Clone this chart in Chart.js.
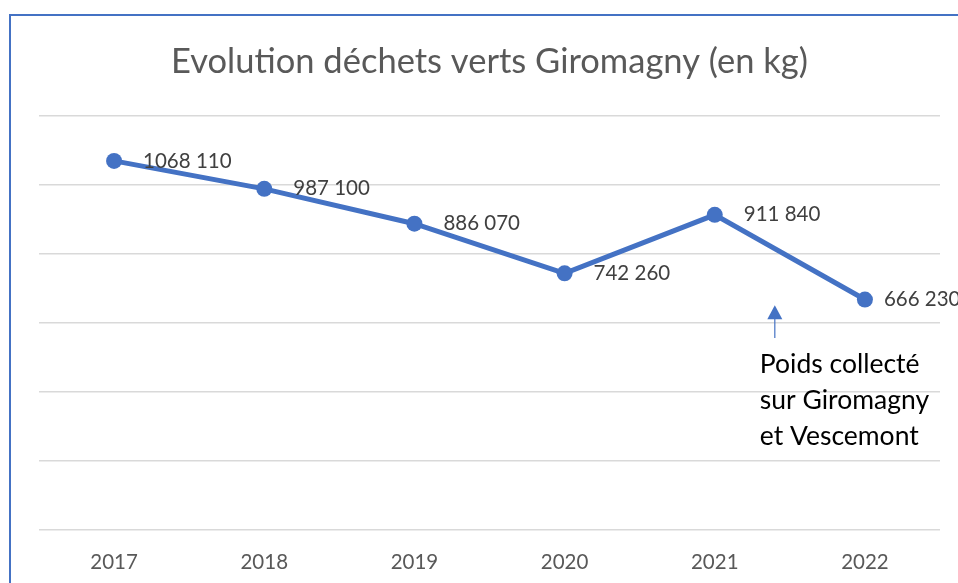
<!DOCTYPE html>
<html>
<head>
<meta charset="utf-8">
<script src="https://cdn.jsdelivr.net/npm/chart.js@4"></script>
<style>
    html, body { margin: 0; padding: 0; background: #fff; overflow: hidden; }
    #wrap { position: relative; width: 958px; height: 583px; overflow: hidden; }
    #frame { position: absolute; left: 9px; top: 14px; width: 1000px; height: 600px; border: 2px solid #4472C4; }
    #chart { position: absolute; left: 0; top: 0; }
</style>
</head>
<body>
<div id="wrap">
    <div id="frame"></div>
    <canvas id="chart" width="958" height="608"></canvas>
</div>
<script>
// donnees
var years = ['2017', '2018', '2019', '2020', '2021', '2022'];
var poids = [1068110, 987100, 886070, 742260, 911840, 666230];
var yTicks = [0, 200000, 400000, 600000, 800000, 1000000, 1200000];

var noteLines = ['Poids collecté', 'sur Giromagny', 'et Vescemont'];
var notePos = 4.4; // entre 2021 et 2022
var arrowTip = 650000;
var arrowEnd = 555000;

var mainFont = 'Lato, "Open Sans", sans-serif';

// format excel "# ##0" : seul le dernier groupe est separe
function formatKg(v) {
    var s = String(v);
    return s.slice(0, -3) + ' ' + s.slice(-3);
}

var valueLabels = {
    id: 'valueLabels',
    afterDatasetsDraw: function(chart) {
        var ctx = chart.ctx;
        var meta = chart.getDatasetMeta(0);
        ctx.save();
        ctx.font = '20.5px ' + mainFont;
        ctx.fillStyle = '#404040';
        ctx.textBaseline = 'middle';
        ctx.textAlign = 'left';
        meta.data.forEach(function(pt, i) {
            // le dernier libelle est rapproche du point (bord du graphique)
            var gap = i === meta.data.length - 1 ? 19 : 29;
            ctx.fillText(formatKg(poids[i]), pt.x + gap, pt.y);
        });
        ctx.restore();
    }
};

var note = {
    id: 'note',
    afterDraw: function(chart) {
        var ctx = chart.ctx;
        var xs = chart.scales.x, ys = chart.scales.y;
        var step = xs.getPixelForValue(1) - xs.getPixelForValue(0);
        var x = xs.getPixelForValue(4) + (notePos - 4) * step;
        var top = ys.getPixelForValue(arrowTip);
        var bottom = ys.getPixelForValue(arrowEnd);
        ctx.save();
        ctx.strokeStyle = '#4472C4';
        ctx.fillStyle = '#4472C4';
        ctx.lineWidth = 1.2;
        ctx.beginPath();
        ctx.moveTo(x, top + 12);
        ctx.lineTo(x, bottom);
        ctx.stroke();
        ctx.beginPath();
        ctx.moveTo(x, top);
        ctx.lineTo(x - 7.5, top + 14);
        ctx.lineTo(x + 7.5, top + 14);
        ctx.closePath();
        ctx.fill();
        ctx.font = '26.5px ' + mainFont;
        ctx.fillStyle = '#000';
        ctx.textBaseline = 'middle';
        ctx.textAlign = 'left';
        noteLines.forEach(function(t, i) {
            ctx.fillText(t, x - 15, bottom + 27 + i * 36);
        });
        ctx.restore();
    }
};

var ctx = document.getElementById('chart');
var myChart = new Chart(ctx, {
    type: 'line',
    data: {
        labels: years,
        datasets: [{
            label: 'Poids',
            data: poids,
            borderColor: '#4472C4',
            backgroundColor: '#4472C4',
            borderWidth: 5,
            pointRadius: 8,
            pointHoverRadius: 8,
            pointBackgroundColor: '#4472C4',
            pointBorderWidth: 0,
            tension: 0
        }]
    },
    options: {
        responsive: false,
        animation: false,
        layout: {
            padding: { left: 39, right: 18, top: 0, bottom: 12 }
        },
        plugins: {
            legend: { display: false },
            tooltip: { enabled: false },
            title: {
                display: true,
                text: 'Evolution déchets verts Giromagny (en kg)',
                color: '#595959',
                font: { family: mainFont, size: 34.5, weight: 'normal', lineHeight: 1.2 },
                padding: { top: 41, bottom: 33 }
            }
        },
        scales: {
            x: {
                offset: true,
                grid: { display: false, drawTicks: false },
                border: { display: false },
                ticks: {
                    color: '#595959',
                    padding: 21,
                    font: { family: mainFont, size: 20.5 }
                }
            },
            y: {
                min: yTicks[0],
                max: yTicks[yTicks.length - 1],
                afterBuildTicks: function(axis) {
                    axis.ticks = yTicks.map(function(v) { return { value: v }; });
                },
                grid: { color: '#d9d9d9', lineWidth: 1.5, drawTicks: false },
                border: { display: false },
                ticks: { display: false }
            }
        }
    },
    plugins: [valueLabels, note]
});
</script>
</body>
</html>
